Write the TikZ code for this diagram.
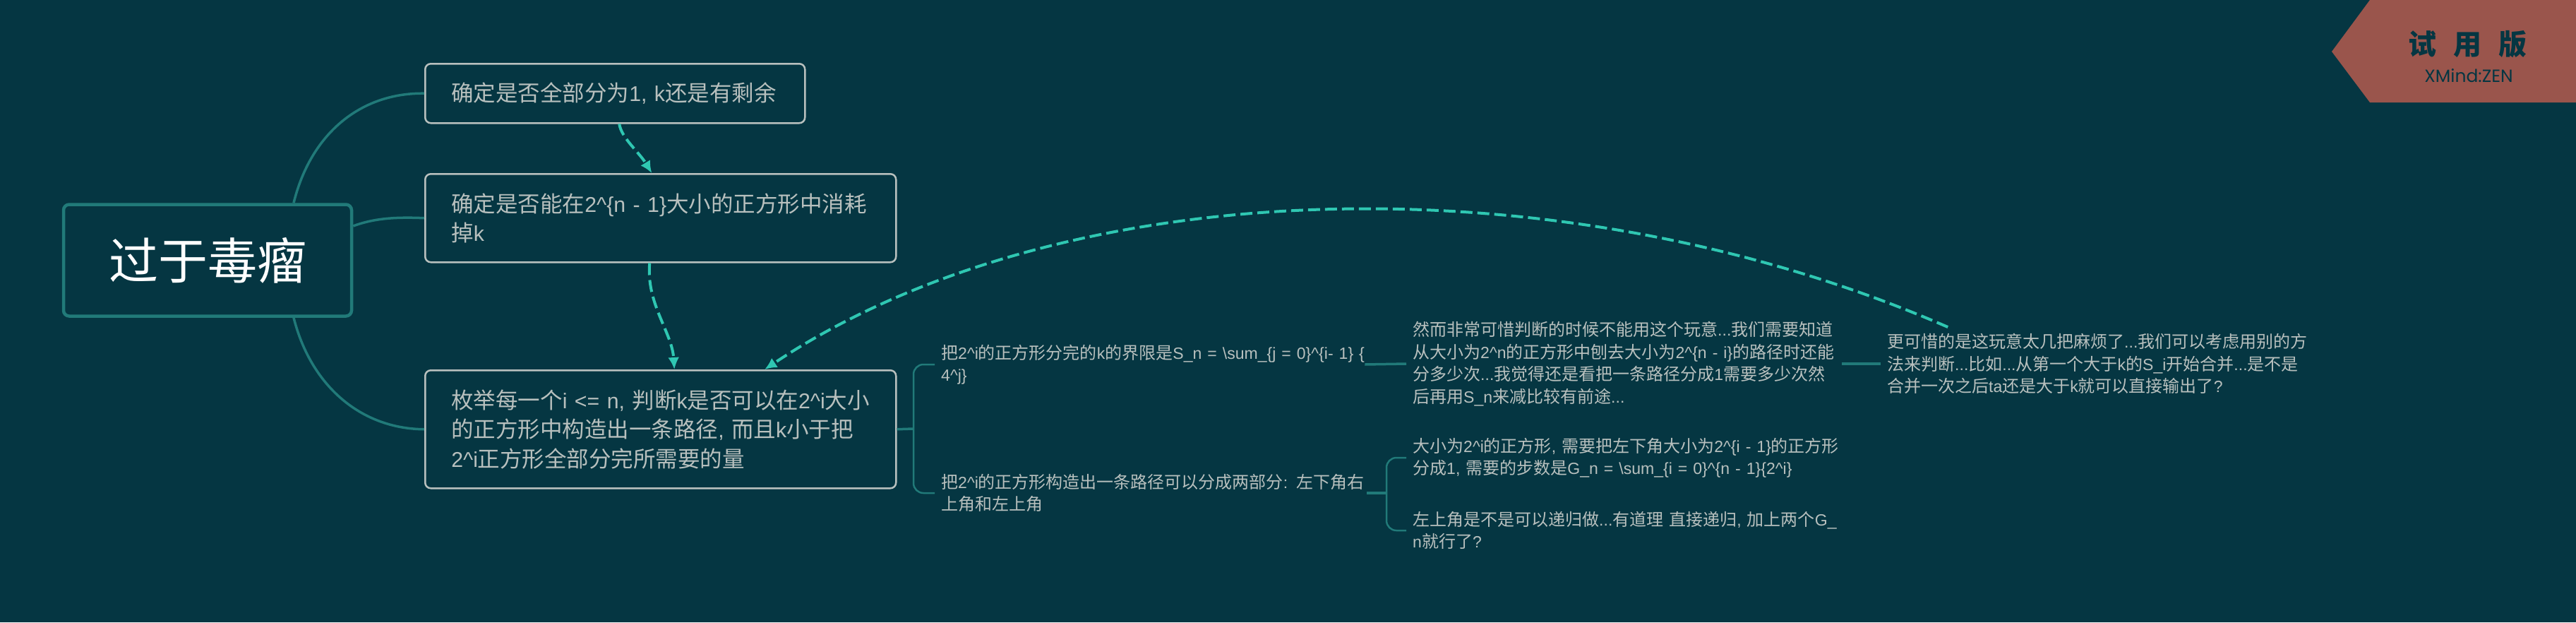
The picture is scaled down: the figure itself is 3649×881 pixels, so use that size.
\documentclass[tikz,border=0pt]{standalone}
\usepackage{fontspec}
\setmainfont{Noto Sans CJK SC}
\newfontfamily\badgefont{Poppins}
\newfontfamily\latinfont[Scale=0.96,WordSpace=0.6]{Liberation Sans}
\usetikzlibrary{arrows.meta}
\definecolor{sheetbg}{HTML}{053642}
\definecolor{branchteal}{HTML}{217A79}
\definecolor{linkteal}{HTML}{2FC7B2}
\definecolor{boxgrey}{HTML}{B8C0BE}
\definecolor{badgered}{HTML}{9A554C}
\newcommand{\crt}{\char94 }
\newcommand{\bsl}{\char92 }
\newcommand{\la}[1]{{\latinfont #1}}
\newcommand{\row}[1]{\mbox{#1}}
\begin{document}
\begin{tikzpicture}
      [x=1pt,y=-1pt,
      root node/.style={rectangle,rounded corners=8pt,draw=branchteal,line width=4.5pt,
        minimum width=408pt,minimum height=158pt,text=white,font=\fontsize{70}{84}\selectfont},
      topic node/.style={rectangle,rounded corners=8pt,draw=boxgrey,line width=2.5pt,text=boxgrey,
        anchor=north west,align=left,inner xsep=37pt,inner ysep=0pt,
        font=\fontsize{31.5}{41.5}\selectfont},
      note node/.style={anchor=west,align=left,text=boxgrey,inner xsep=9pt,inner ysep=9pt,
        font=\fontsize{24}{31.5}\selectfont},
      branch/.style={draw=branchteal,line width=3.5pt},
      fork/.style={draw=branchteal,line width=2.5pt,rounded corners=14pt},
      link/.style={draw=linkteal,line width=4pt,dash pattern=on 17pt off 7pt,
        -{Latex[length=17pt,width=16pt]}}]
      \fill[sheetbg] (0,0) rectangle (3649,881);
      \useasboundingbox (0,0) rectangle (3649,881);
      \node[root node] (root) at (294,368.5) {过于毒瘤};
      \node[topic node,text width=464pt,minimum height=84pt] (n1) at (601,89)
        {\row{确定是否全部分为\la{1, k}还是有剩余}};
      \node[topic node,text width=593pt,minimum height=125pt] (n2) at (601,245)
        {\row{确定是否能在\la{2\crt\{n - 1\}}大小的正方形中消耗}\\\row{掉\la{k}}};
      \node[topic node,text width=593pt,minimum height=167pt] (n3) at (601,523)
        {\row{枚举每一个\la{i <= n, }判断\la{k}是否可以在\la{2\crt i}大小}\\
         \row{的正方形中构造出一条路径\la{, }而且\la{k}小于把}\\\row{\la{2\crt i}正方形全部分完所需要的量}};
      \node[note node,text width=594pt] (s1) at (1324,516)
        {\row{把\la{2\crt i}的正方形分完的\la{k}的界限是\la{S\_n = \bsl sum\_\{j = 0\}\crt\{i- 1\} \{}}\\\row{\la{4\crt j\}}}};
      \node[note node,text width=594pt] (s2) at (1324,698)
        {\row{把\la{2\crt i}的正方形构造出一条路径可以分成两部分\la{: }左下角右}\\\row{上角和左上角}};
      \node[note node,text width=599pt] (t1) at (1992,515)
        {\row{然而非常可惜判断的时候不能用这个玩意\la{...}我们需要知道}\\
         \row{从大小为\la{2\crt n}的正方形中刨去大小为\la{2\crt\{n - i\}}的路径时还能}\\
         \row{分多少次\la{...}我觉得还是看把一条路径分成\la{1}需要多少次然}\\
         \row{后再用\la{S\_n}来减比较有前途\la{...}}};
      \node[note node,text width=599pt] (t2) at (1992,648)
        {\row{大小为\la{2\crt i}的正方形\la{, }需要把左下角大小为\la{2\crt\{i - 1\}}的正方形}\\
         \row{分成\la{1, }需要的步数是\la{G\_n = \bsl sum\_\{i = 0\}\crt\{n - 1\}\{2\crt i\}}}};
      \node[note node,text width=599pt] (t3) at (1992,751)
        {\row{左上角是不是可以递归做\la{...}有道理\la{ }直接递归\la{, }加上两个\la{G\_}}\\\row{\la{n}就行了\la{?}}};
      \node[note node,text width=600pt] (u1) at (2664,515)
        {\row{更可惜的是这玩意太几把麻烦了\la{...}我们可以考虑用别的方}\\
         \row{法来判断\la{...}比如\la{...}从第一个大于\la{k}的\la{S\_i}开始合并\la{...}是不是}\\
         \row{合并一次之后\la{ta}还是大于\la{k}就可以直接输出了\la{?}}};
      \coordinate (fork1) at (1294,607);
      \coordinate (fork2) at (1964,698);
      \path[branch] ([xshift=122pt]root.north) .. controls (440,190) and (510,131) .. (n1.west);
      \path[branch] (root.east |- 0,320) .. controls (530,309) and (560,307) .. (n2.west);
      \path[branch] ([xshift=122pt]root.south) .. controls (440,545) and (510,607) .. (n3.west);
      \path[branch] (n3.east) -- (fork1);
      \path[fork] (s1.west) -| (fork1) |- (s2.west);
      \path[branch] ([xshift=-3pt]s1.east) -- (t1.west);
      \path[branch] (s2.east) -- (fork2);
      \path[fork] (t2.west) -| (fork2) |- (t3.west);
      \path[branch] (t1.east) -- (u1.west);
      \path[link] ([xshift=6pt]n1.south) .. controls (880,195) and (905,215) .. ([xshift=-12.5pt]n2.north);
      \path[link] ([xshift=-15.5pt]n2.south) .. controls (915,430) and (952,470) .. ([xshift=19.5pt]n3.north);
      \path[link] ([xshift=-214pt]u1.north) .. controls (2200,220) and (1500,245) .. ([xshift=147.5pt]n3.north);
      \fill[badgered] (3303,73) -- (3357,0) -- (3649,0) -- (3649,145) -- (3357,145) -- cycle;
      \node[text=sheetbg,font=\fontsize{40}{48}\selectfont\bfseries] (badge) at (3495,63) {试\hspace{24pt}用\hspace{24pt}版};
      \node[text=sheetbg,font=\fontsize{25}{30}\badgefont] (badgesub) at (3497,107) {XMind:ZEN};
\end{tikzpicture}
\end{document}
